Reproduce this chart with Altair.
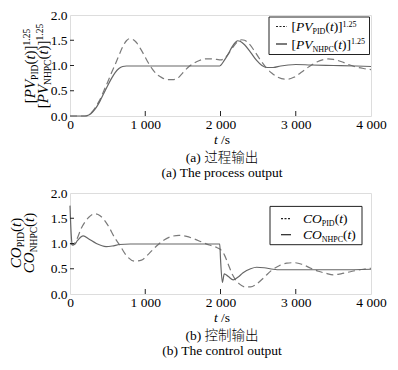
import altair as alt
import pandas as pd

# ---------------- data ----------------
pv_pid_t = [0, 200, 250, 300, 350, 400, 450, 500, 550, 600, 650, 700, 750, 790, 830, 880, 930, 980, 1030, 1090,
            1150, 1220, 1300, 1360, 1420, 1490, 1560, 1640, 1720, 1800, 1880, 1950, 2000, 2040, 2100, 2150, 2200,
            2250, 2280, 2320, 2380, 2450, 2520, 2600, 2680, 2760, 2850, 2900, 2980, 3080, 3180, 3280, 3380, 3430,
            3500, 3600, 3700, 3800, 3900, 4000]
pv_pid_v = [0, 0, 0.02, 0.09, 0.2, 0.33, 0.5, 0.67, 0.85, 1.02, 1.2, 1.37, 1.49, 1.53, 1.52, 1.46, 1.35, 1.22, 1.08, 0.94,
            0.83, 0.76, 0.72, 0.72, 0.74, 0.84, 0.95, 1.04, 1.1, 1.13, 1.13, 1.12, 1.11, 1.13, 1.22, 1.33, 1.43,
            1.49, 1.51, 1.5, 1.43, 1.29, 1.13, 0.97, 0.85, 0.77, 0.73, 0.73, 0.77, 0.87, 0.98, 1.07, 1.12, 1.13,
            1.12, 1.08, 1.02, 0.97, 0.94, 0.92]
pv_nhpc_t = [0, 200, 250, 300, 350, 400, 450, 500, 550, 600, 650, 700, 750, 800, 1000, 1500, 1990, 2000, 2050, 2100,
             2150, 2200, 2230, 2260, 2320, 2400, 2480, 2550, 2620, 2700, 2800, 2900, 3000, 3200, 3500, 3800, 4000]
pv_nhpc_v = [0, 0, 0.02, 0.08, 0.17, 0.3, 0.45, 0.6, 0.74, 0.86, 0.94, 0.98, 0.99, 0.99, 0.99, 0.99, 0.99, 1.0, 1.1, 1.22,
             1.36, 1.46, 1.49, 1.48, 1.41, 1.26, 1.1, 1.0, 0.96, 0.96, 0.99, 1.01, 1.02, 1.01, 1.0, 0.99, 0.98]

co_pid_t = [0, 40, 80, 150, 250, 330, 400, 500, 600, 660, 750, 860, 950, 1050, 1150, 1250, 1350, 1450, 1550, 1650,
            1750, 1850, 1950, 2000, 2050, 2100, 2160, 2250, 2330, 2400, 2480, 2580, 2680, 2780, 2880, 2980, 3080,
            3200, 3300, 3400, 3500, 3600, 3750, 3900, 4000]
co_pid_v = [1.0, 0.97, 1.05, 1.3, 1.52, 1.59, 1.55, 1.37, 1.1, 0.97, 0.76, 0.65, 0.67, 0.8, 0.95, 1.07, 1.14, 1.16, 1.14,
            1.09, 1.03, 0.97, 0.92, 0.88, 0.78, 0.6, 0.38, 0.2, 0.14, 0.14, 0.2, 0.33, 0.47, 0.56, 0.61, 0.62, 0.59,
            0.51, 0.45, 0.41, 0.38, 0.4, 0.45, 0.49, 0.51]
co_nhpc_t = [0, 15, 30, 60, 100, 176, 250, 350, 480, 560, 660, 800, 1200, 1990, 2000, 2025, 2050, 2100, 2170, 2230,
             2300, 2400, 2480, 2580, 2700, 2800, 3200, 3600, 4000]
co_nhpc_v = [1.75, 1.2, 0.97, 0.98, 1.06, 1.15, 1.09, 1.0, 0.94, 0.95, 0.98, 0.99, 0.99, 0.99, 0.7, 0.23, 0.4, 0.35,
             0.28, 0.33, 0.42, 0.5, 0.53, 0.52, 0.49, 0.48, 0.48, 0.48, 0.49]

x_ticks = [0, 1000, 2000, 3000, 4000]
y_ticks = [0.0, 0.5, 1.0, 1.5, 2.0]
inner_x_ticks = [1000, 2000, 3000]
inner_y_ticks = [0.5, 1.0, 1.5]

caption_a_cn = "(a) 过程输出"
caption_a_en = "(a) The process output"
caption_b_cn = "(b) 控制输出"
caption_b_en = "(b) The control output"

# ---------------- style ----------------
FONT = "Liberation Serif"
CJK_FONT = "Liberation Serif, Noto Sans CJK SC"
W, H = 301, 101
LINE_GRAY = "#666666"
DASH_GRAY = "#7a7a7a"
FRAME = "#222222"

REG = {'[': 0.333, ']': 0.333, '(': 0.333, ')': 0.333, '.': 0.25, ' ': 0.25, '\u00a0': 0.25, '/': 0.278,
       's': 0.389, '0': 0.5, '1': 0.5, '2': 0.5, '5': 0.5, 'P': 0.556, 'I': 0.333, 'D': 0.722, 'N': 0.722,
       'H': 0.722, 'C': 0.667}
ITA = {'P': 0.611, 'V': 0.611, 't': 0.278, 'C': 0.667, 'O': 0.722}

dummy = pd.DataFrame({"k": [0]})


def tw(txt, size, italic):
    m = ITA if italic else REG
    return sum(m.get(c, 0.5) for c in txt) * size


def rich(pieces, x0, y0, angle=0, anchor="left", baseline="alphabetic"):
    total = sum(tw(p[0], p[1], p[2]) for p in pieces)
    cur = -total / 2 if anchor == "center" else 0.0
    out = []
    for txt, size, ital, shift in pieces:
        if angle == 0:
            px, py = x0 + cur, y0 - shift
        else:
            px, py = x0 - shift, y0 - cur
        if txt.strip("\u00a0 "):
            kw = dict(text=txt, font=FONT, fontSize=size, fontStyle="italic" if ital else "normal",
                      align="left", baseline=baseline, color="black")
            if angle:
                kw["angle"] = angle
            out.append(alt.Chart(dummy).mark_text(**kw).encode(x=alt.value(px), y=alt.value(py)))
        cur += tw(txt, size, ital)
    return out


def pv_pieces(sub, main=15, small=9.5, dsub=3, dsup=5):
    return [("[", main, False, 0), ("PV", main, True, 0), (sub, small, False, -dsub),
            ("(", main, False, 0), ("t", main, True, 0), (")]", main, False, 0), ("1.25", small, False, dsup)]


def co_pieces(sub, main=15, small=9.5, dsub=3):
    return [("CO", main, True, 0), (sub, small, False, -dsub),
            ("(", main, False, 0), ("t", main, True, 0), (")", main, False, 0)]


xscale = alt.Scale(domain=[0, 4000], nice=False)
yscale = alt.Scale(domain=[0, 2], nice=False)

x_axis = alt.Axis(values=x_ticks, labelExpr="datum.value == 0 ? '0' : format(datum.value/1000, 'd') + ' 000'",
                  ticks=False, domain=False, grid=False, title=None, labelFont=FONT, labelFontSize=13.5,
                  labelColor="black", labelPadding=1, labelFlush=False, labelOverlap=False)
y_axis = alt.Axis(values=y_ticks, format=".1f", ticks=False, domain=False, grid=False, title=None,
                  labelFont=FONT, labelFontSize=13.5, labelColor="black", labelPadding=3)

X_ENC = alt.X("t:Q", scale=xscale, axis=x_axis)
Y_ENC = alt.Y("v:Q", scale=yscale, axis=y_axis)


def panel(pid_t, pid_v, nh_t, nh_v, ytitle, legend, cap_cn, cap_en):
    d_pid = pd.DataFrame({"t": pid_t, "v": pid_v})
    d_nh = pd.DataFrame({"t": nh_t, "v": nh_v})
    pid = alt.Chart(d_pid).mark_line(color=DASH_GRAY, strokeWidth=1.2, strokeDash=[7, 4],
                                      interpolate="monotone").encode(x=X_ENC, y=Y_ENC)
    nh = alt.Chart(d_nh).mark_line(color=LINE_GRAY, strokeWidth=1.2, interpolate="monotone").encode(
        x=X_ENC, y=Y_ENC)
    xt = alt.Chart(pd.DataFrame({"t": inner_x_ticks})).mark_rule(color=FRAME, strokeWidth=1).encode(
        x=X_ENC, y=alt.value(H), y2=alt.value(H - 5))
    yt = alt.Chart(pd.DataFrame({"v": inner_y_ticks})).mark_rule(color=FRAME, strokeWidth=1).encode(
        y=Y_ENC, x=alt.value(0), x2=alt.value(4))

    layers = [pid, nh, xt, yt]

    # legend box
    bx0, bx1, by0, by1, sx0, sx1, tx, rows, pieces = legend
    layers.append(alt.Chart(dummy).mark_rect(fill="white", stroke=FRAME, strokeWidth=1).encode(
        x=alt.value(bx0), x2=alt.value(bx1), y=alt.value(by0), y2=alt.value(by1)))
    layers.append(alt.Chart(dummy).mark_rule(color="#222", strokeWidth=1.2, strokeDash=[2, 1.5]).encode(
        x=alt.value(sx0), x2=alt.value(sx1), y=alt.value(rows[0] - 4.5)))
    layers.append(alt.Chart(dummy).mark_rule(color="#222", strokeWidth=1.2).encode(
        x=alt.value(sx0), x2=alt.value(sx1), y=alt.value(rows[1] - 4.5)))
    for r, pcs in zip(rows, pieces):
        layers += rich(pcs, tx, r)

    # y title (rotated)
    (xa, xb, yc, l1, l2) = ytitle
    for xx, pcs in ((xa, l1), (xb, l2)):
        layers += rich(pcs, xx, yc, angle=270, anchor="center")

    # x title and captions
    layers += rich([("t", 13.5, True, 0), ("\u00a0", 13.5, False, 0), ("/s", 13.5, False, 0)],
                   W / 2 + 1.5, H + 24, anchor="center", baseline="middle")
    layers.append(alt.Chart(dummy).mark_text(text=cap_cn, font=CJK_FONT, fontSize=13.5, fontWeight=300,
                                             color="black", baseline="middle", align="center").encode(
        x=alt.value(W / 2 + 1.5), y=alt.value(H + 41.5)))
    layers.append(alt.Chart(dummy).mark_text(text=cap_en, font=FONT, fontSize=13.5, color="black",
                                             baseline="middle", align="center").encode(
        x=alt.value(W / 2 + 1.5), y=alt.value(H + 57)))
    return alt.layer(*layers).properties(width=W, height=H)


top = panel(pv_pid_t, pv_pid_v, pv_nhpc_t, pv_nhpc_v,
            (-35, -21.7, 51, pv_pieces("PID"), pv_pieces("NHPC")),
            (199, 299.5, 2, 39.5, 206, 217, 221.5, [16, 33.5],
             [pv_pieces("PID", 13.5, 8, 3, 4.5), pv_pieces("NHPC", 13.5, 8, 3, 4.5)]),
            caption_a_cn, caption_a_en)

bottom = panel(co_pid_t, co_pid_v, co_nhpc_t, co_nhpc_v,
               (-48.7, -35.7, 50, co_pieces("PID"), co_pieces("NHPC")),
               (200, 292, 13.4, 51.7, 211, 221, 233, [30.2, 46.2],
                [co_pieces("PID", 13.5, 8, 3), co_pieces("NHPC", 13.5, 8, 3)]),
               caption_b_cn, caption_b_en)

chart = alt.vconcat(top, bottom, spacing=5).properties(
    padding={"left": 0, "top": -1, "right": 2, "bottom": 2}
).configure_view(stroke=FRAME, strokeWidth=1).configure(background="white")

chart.save("out.html", embed_options={"renderer": "svg", "actions": False})
